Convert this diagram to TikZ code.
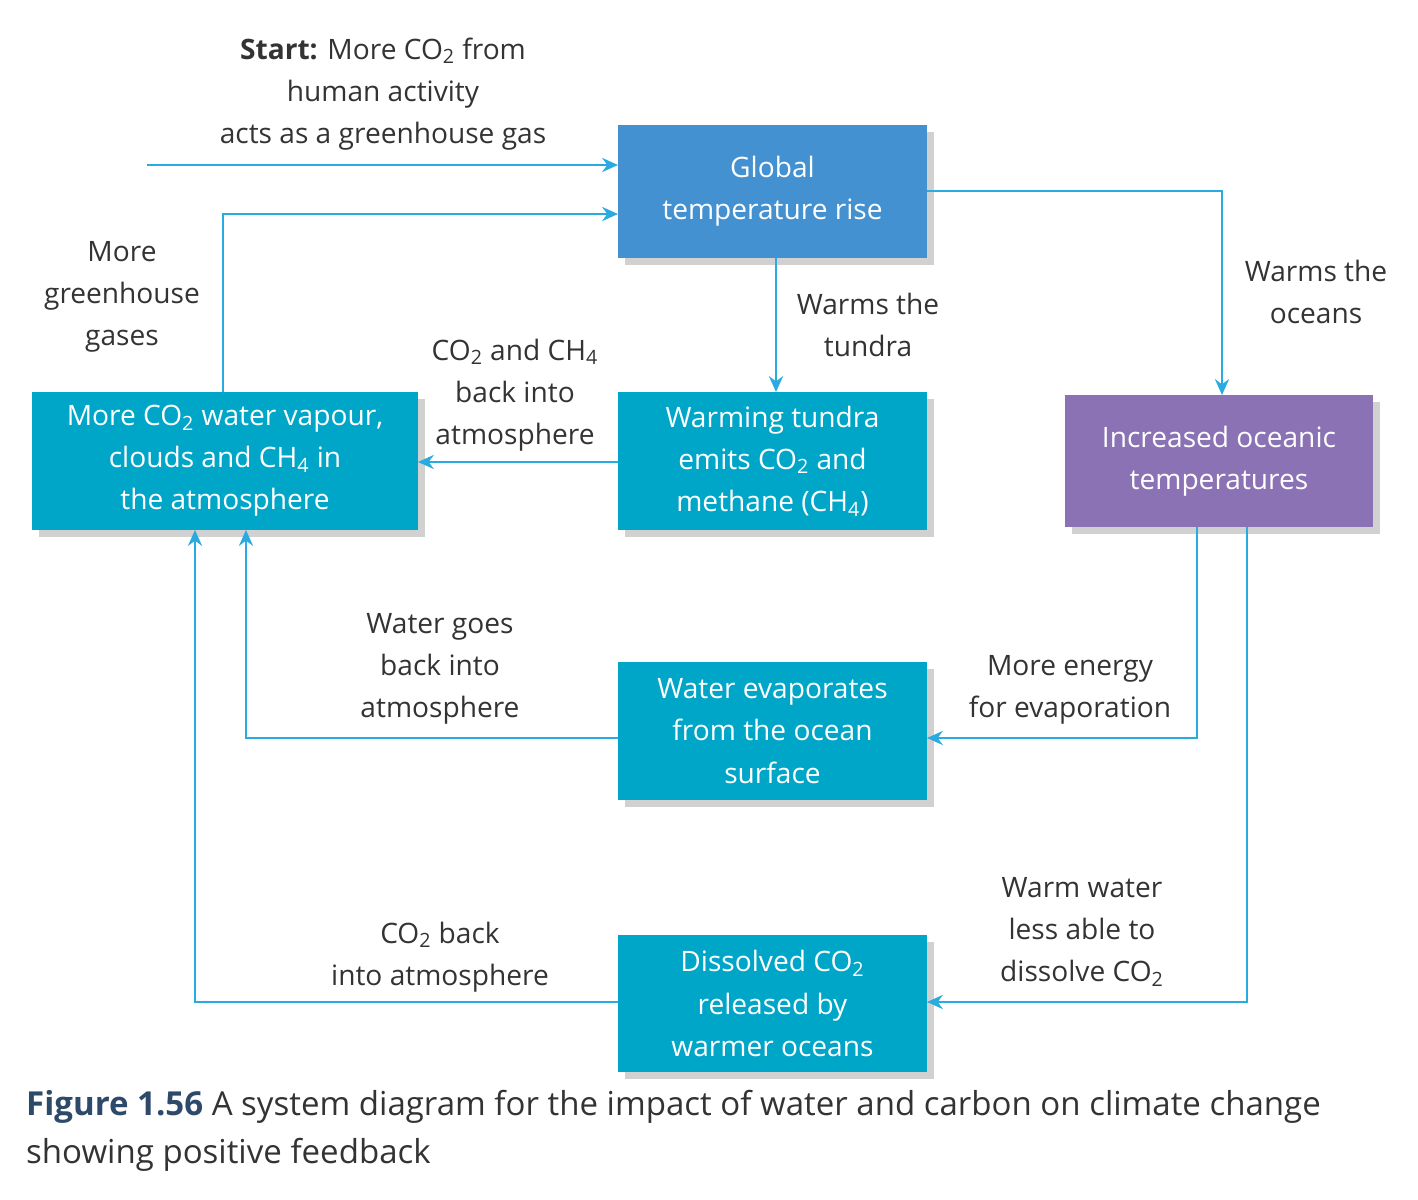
\documentclass[tikz,border=0pt]{standalone}
\usepackage{fontspec}
\setmainfont{Open Sans}
\usetikzlibrary{arrows.meta}
\definecolor{arr}{HTML}{29ABE2}
\definecolor{teal}{HTML}{00A6C8}
\definecolor{gblue}{HTML}{4391D0}
\definecolor{purp}{HTML}{8B72B5}
\definecolor{txt}{HTML}{333333}
\definecolor{cap}{HTML}{2E4A6A}
\newcommand{\co}{CO\textsubscript{2}}
\newcommand{\ch}{CH\textsubscript{4}}
\begin{document}
\begin{tikzpicture}[x=0.02cm,y=-0.02cm,
  font=\fontsize{16}{24}\selectfont,
  box/.style={draw=none,text=white,align=center,inner sep=0pt},
  lbl/.style={align=center,text=txt},
  conn/.style={draw=arr,line width=1.5pt,-{Stealth[length=9pt,width=8pt]}}]
\useasboundingbox (0,0) rectangle (1418,1200);
\newcommand{\bx}[6]{%
 \fill[black!18] (#2+7,#3+7) rectangle (#4+7,#5+7);
 \fill[#6] (#2,#3) rectangle (#4,#5);
 \node[box] (#1) at ({(#2+#4)/2},{(#3+#5)/2}) {};}
\bx{glob}{618}{125}{927}{258}{gblue}
\bx{more}{32}{392}{418}{530}{teal}
\bx{tund}{618}{392}{927}{530}{teal}
\bx{ocean}{1065}{395}{1373}{527}{purp}
\bx{evap}{618}{662}{927}{800}{teal}
\bx{diss}{618}{935}{927}{1072}{teal}
\node[box] at (glob) {Global\\temperature rise};
\node[box] at (more) {More \co\ water vapour,\\clouds and \ch\ in\\the atmosphere};
\node[box] at (tund) {Warming tundra\\emits \co\ and\\methane (\ch)};
\node[box] at (ocean) {Increased oceanic\\temperatures};
\node[box] at (evap) {Water evaporates\\from the ocean\\surface};
\node[box] at (diss) {Dissolved \co\\released by\\warmer oceans};
\coordinate (s) at (147,165);
\draw[conn] (s) -- (618,165);
\draw[conn] (223,392) -- (223,214) -- (618,214);
\draw[conn] (776,258) -- (776,392);
\draw[conn] (927,191) -- (1222,191) -- (1222,395);
\draw[conn] (618,462) -- (418,462);
\draw[conn] (1197,527) -- (1197,738) -- (927,738);
\draw[conn] (1247,527) -- (1247,1002) -- (927,1002);
\draw[conn] (618,738) -- (246,738) -- (246,530);
\draw[conn] (618,1002) -- (195,1002) -- (195,530);
\node[lbl] (l1) at (383,94) {\textbf{Start:} More \co\ from\\human activity\\acts as a greenhouse gas};
\node[lbl] (l2) at (122,297) {More\\greenhouse\\gases};
\node[lbl] (l3) at (868,325) {Warms the\\tundra};
\node[lbl] (l4) at (1316,292) {Warms the\\oceans};
\node[lbl] (l5) at (515,395) {\co\ and \ch\\back into\\atmosphere};
\node[lbl] (l6) at (440,669) {Water goes\\back into\\atmosphere};
\node[lbl] (l7) at (1070,690) {More energy\\for evaporation};
\node[lbl] (l8) at (1082,932) {Warm water\\less able to\\dissolve \co};
\node[lbl] (l9) at (440,957) {\co\ back\\into atmosphere};
\node[anchor=west,text=txt,align=left,font=\fontsize{18.8}{27.5}\selectfont] (c1) at (20,1131) {\textcolor{cap}{\textbf{Figure 1.56}} A system diagram for the impact of water and carbon on climate change\\showing positive feedback};
\end{tikzpicture}
\end{document}
